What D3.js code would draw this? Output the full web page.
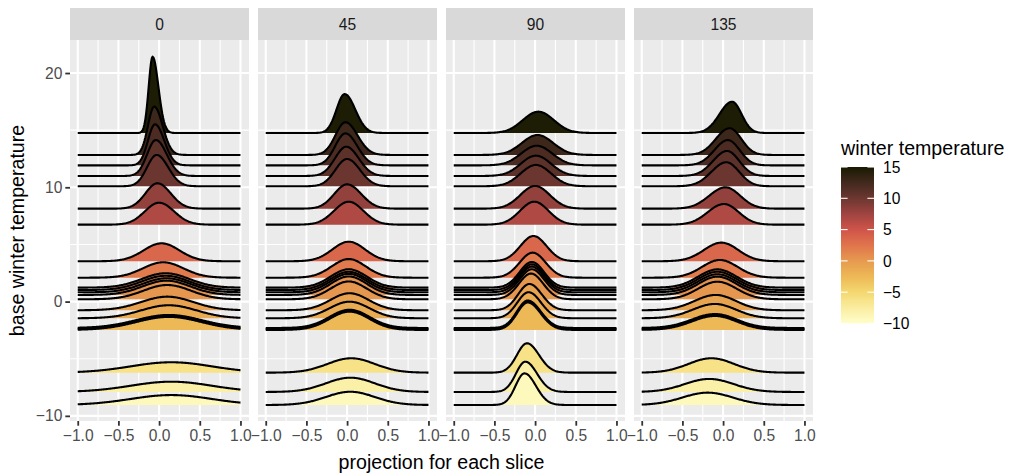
<!DOCTYPE html>
<html>
<head>
<meta charset="utf-8">
<script src="https://cdn.jsdelivr.net/npm/d3@7"></script>
<style>
  body { margin: 0; background: #fff; }
  svg { font-family: "Liberation Sans", Arial, sans-serif; }
  .panel-bg { fill: #EBEBEB; }
  .strip { fill: #D9D9D9; }
  .strip-text { fill: #1A1A1A; font-size: 15.6px; }
  .grid-major { stroke: #fff; stroke-width: 2.1; }
  .grid-minor { stroke: #fff; stroke-width: 1.1; }
  .tick line { stroke: #333; stroke-width: 1.8; }
  .tick text { fill: #4D4D4D; font-size: 15.6px; }
  .axis-title { fill: #000; font-size: 19.6px; }
  .ridge-line { fill: none; stroke: #000; stroke-width: 2.1; stroke-linejoin: round; }
</style>
</head>
<body>
<div id="chart"></div>
<script>
// facets (angle of projection)
const facets = ['0', '45', '90', '135'];

// base winter temperature of each ridge (same for every facet), top to bottom
const baseTemps = [14.75, 12.83, 11.92, 10.99, 10.09, 8.13, 6.73, 3.53, 2.09, 1.22, 1.01, 0.81, 0.58, 0.20,
                   -0.76, -1.46, -2.31, -2.40, -2.48, -6.22, -7.91, -9.05];

// ridge centre / spread / peak height (in temperature units) / right-left lean, read per facet
const centre0 = [-0.08, -0.06, -0.05, -0.04, -0.03, -0.02, 0.0, 0.03, 0.05, 0.08, 0.08, 0.09, 0.09, 0.10, 0.10, 0.12, 0.12, 0.12, 0.12, 0.15, 0.15, 0.15];
const spread0 = [0.06, 0.09, 0.10, 0.12, 0.13, 0.155, 0.18, 0.22, 0.25, 0.29, 0.29, 0.29, 0.29, 0.29, 0.32, 0.34, 0.40, 0.40, 0.40, 0.50, 0.50, 0.50];
const height0 = [6.68, 4.23, 3.59, 3.15, 2.74, 2.22, 1.92, 1.57, 1.35, 1.26, 1.25, 1.23, 1.25, 1.25, 1.19, 1.14, 1.14, 1.14, 1.14, 0.91, 0.90, 0.87];
const lean0 = [1.5, 1.35, 1.3, 1.25, 1.2, 1.1, 1.05, 1, 1, 1, 1, 1, 1, 1, 1, 1, 1, 1, 1, 1, 1, 1];

const centre45 = [-0.03, -0.02, -0.02, -0.01, 0.0, 0.0, 0.02, 0.02, 0.02, 0.02, 0.02, 0.02, 0.02, 0.02, 0.03, 0.03, 0.03, 0.03, 0.03, 0.05, 0.04, 0.04];
const spread45 = [0.115, 0.135, 0.135, 0.145, 0.15, 0.165, 0.18, 0.20, 0.21, 0.22, 0.22, 0.22, 0.22, 0.22, 0.235, 0.245, 0.245, 0.245, 0.245, 0.29, 0.30, 0.30];
const height45 = [3.41, 2.86, 2.80, 2.56, 2.39, 2.13, 2.01, 1.71, 1.63, 1.61, 1.60, 1.62, 1.62, 1.56, 1.49, 1.45, 1.60, 1.60, 1.60, 1.26, 1.25, 1.16];
const lean45 = [1.3, 1.2, 1.15, 1.1, 1.1, 1.1, 1, 1, 1, 1, 1, 1, 1, 1, 1, 1, 1, 1, 1, 1, 1, 1];

const centre90 = [0.04, 0.03, 0.02, 0.01, 0.01, 0.0, -0.01, -0.02, -0.03, -0.04, -0.04, -0.04, -0.04, -0.05, -0.07, -0.08, -0.09, -0.09, -0.09, -0.10, -0.12, -0.13];
const spread90 = [0.19, 0.19, 0.19, 0.185, 0.185, 0.18, 0.175, 0.16, 0.16, 0.15, 0.15, 0.15, 0.15, 0.15, 0.145, 0.145, 0.145, 0.145, 0.145, 0.135, 0.13, 0.125];
const height90 = [1.87, 1.75, 1.72, 1.78, 1.87, 1.99, 2.01, 2.21, 2.19, 2.25, 2.25, 2.25, 2.25, 2.25, 2.30, 2.28, 2.40, 2.40, 2.40, 2.57, 2.65, 2.77];
const lean90 = [1, 1, 1, 1, 1, 1, 1, 1, 1, 1, 1, 1, 1, 1, 1.1, 1.1, 1.2, 1.2, 1.2, 1.2, 1.25, 1.27];

const centre135 = [0.11, 0.08, 0.06, 0.05, 0.04, 0.03, 0.01, -0.02, -0.04, -0.07, -0.07, -0.07, -0.07, -0.07, -0.09, -0.10, -0.10, -0.10, -0.10, -0.145, -0.17, -0.19];
const spread135 = [0.135, 0.155, 0.155, 0.16, 0.17, 0.19, 0.19, 0.21, 0.22, 0.235, 0.235, 0.235, 0.235, 0.235, 0.255, 0.265, 0.275, 0.275, 0.275, 0.28, 0.30, 0.31];
const height135 = [2.74, 2.34, 2.21, 2.19, 2.10, 1.87, 1.81, 1.63, 1.55, 1.60, 1.60, 1.58, 1.60, 1.54, 1.34, 1.25, 1.22, 1.22, 1.22, 1.26, 1.14, 1.08];
const lean135 = [0.76, 0.85, 0.86, 0.86, 0.86, 0.9, 0.92, 0.96, 1, 1, 1, 1, 1, 1, 0.95, 0.95, 0.94, 0.94, 0.94, 1, 1, 1];

// axis ticks
const xTicks = [-1, -0.5, 0, 0.5, 1];
const xMinor = [-0.75, -0.25, 0.25, 0.75];
const yTicks = [-10, 0, 10, 20];
const yMinor = [-5, 5, 15];
const legendTicks = [15, 10, 5, 0, -5, -10];

// fill palette (light yellow -> orange -> red -> near black)
const paletteTemps = [-10, -7.5, -5, -2.5, 0, 2.5, 5, 7.5, 10, 12.5, 15];
const paletteColours = ['#FFFECB', '#FAEDA0', '#F4D870', '#EDB856', '#E69A4F', '#E0744C',
                        '#CF5449', '#9F4441', '#6C3730', '#42291E', '#191A01'];

const ridgeParams = [
  [centre0, spread0, height0, lean0],
  [centre45, spread45, height45, lean45],
  [centre90, spread90, height90, lean90],
  [centre135, spread135, height135, lean135]
];

class RidgeFacets {

  constructor(container, width, height) {
    this.width = width;
    this.height = height;
    this.svg = d3.select(container).append('svg').attr('width', width).attr('height', height);
    this.svg.append('rect').attr('width', width).attr('height', height).attr('fill', '#fff');

    // panel geometry
    this.panelLeft = 70; this.panelWidth = 179; this.panelStep = 188;
    this.panelTop = 40; this.panelBottom = 421;
    this.stripTop = 8;

    this.scaleY = d3.scaleLinear().domain([-10.45, 22.89]).range([this.panelBottom, this.panelTop]);
    this.scaleX = d3.scaleLinear().domain([-1.095, 1.105]).range([0, this.panelWidth]);
    this.colour = d3.scaleLinear().domain(paletteTemps).range(paletteColours).clamp(true);
  }

  drawPanel(i) {
    const x = this.scaleX, y = this.scaleY;
    const g = this.svg.append('g').attr('transform', `translate(${this.panelLeft + i * this.panelStep},0)`);

    // strip
    g.append('rect').classed('strip', true)
      .attr('x', 0).attr('y', this.stripTop).attr('width', this.panelWidth).attr('height', this.panelTop - this.stripTop);
    g.append('text').classed('strip-text', true)
      .attr('x', this.panelWidth / 2).attr('y', (this.stripTop + this.panelTop) / 2)
      .attr('text-anchor', 'middle').attr('dy', '0.36em').text(facets[i]);

    // background + grid
    g.append('rect').classed('panel-bg', true)
      .attr('x', 0).attr('y', this.panelTop).attr('width', this.panelWidth).attr('height', this.panelBottom - this.panelTop);
    g.selectAll('.gx-minor').data(xMinor).join('line').attr('class', 'grid-minor')
      .attr('x1', d => x(d)).attr('x2', d => x(d)).attr('y1', this.panelTop).attr('y2', this.panelBottom);
    g.selectAll('.gy-minor').data(yMinor).join('line').attr('class', 'grid-minor')
      .attr('y1', d => y(d)).attr('y2', d => y(d)).attr('x1', 0).attr('x2', this.panelWidth);
    g.selectAll('.gx-major').data(xTicks).join('line').attr('class', 'grid-major')
      .attr('x1', d => x(d)).attr('x2', d => x(d)).attr('y1', this.panelTop).attr('y2', this.panelBottom);
    g.selectAll('.gy-major').data(yTicks).join('line').attr('class', 'grid-major')
      .attr('y1', d => y(d)).attr('y2', d => y(d)).attr('x1', 0).attr('x2', this.panelWidth);

    // ridges, top one first so lower ridges overlap it
    const [centre, spread, peak, lean] = ridgeParams[i];
    const xs = d3.range(-1, 1.0001, 0.01);
    baseTemps.forEach((base, k) => {
      const sdLeft = spread[k] * 2 / (1 + lean[k]);
      const sdRight = sdLeft * lean[k];
      const pts = xs.map(v => {
        const sd = v < centre[k] ? sdLeft : sdRight;
        return [v, base + peak[k] * Math.exp(-0.5 * ((v - centre[k]) / sd) ** 2)];
      });
      const area = d3.area().x(d => x(d[0])).y0(y(base)).y1(d => y(d[1]));
      const line = d3.line().x(d => x(d[0])).y(d => y(d[1]));
      g.append('path').datum(pts).attr('d', area).attr('fill', this.colour(base));
      g.append('path').datum(pts).attr('d', line).classed('ridge-line', true);
    });

    // x axis
    const axisX = g.append('g').attr('transform', `translate(0,${this.panelBottom})`)
      .call(d3.axisBottom(x).tickValues(xTicks).tickSize(4.7).tickPadding(4).tickFormat(d3.format('.1f')));
    axisX.select('.domain').remove();
    axisX.selectAll('.tick text').text(d => d3.format('.1f')(d).replace('-', '\u2212'));
  }

  drawAxes() {
    const y = this.scaleY;
    const axisY = this.svg.append('g').attr('transform', `translate(${this.panelLeft},0)`)
      .call(d3.axisLeft(y).tickValues(yTicks).tickSize(4.7).tickPadding(3));
    axisY.select('.domain').remove();
    axisY.selectAll('.tick text').text(d => String(d).replace('-', '\u2212'));

    const midX = this.panelLeft + (3 * this.panelStep + this.panelWidth) / 2;
    this.svg.append('text').classed('axis-title', true)
      .attr('x', midX).attr('y', 469).attr('text-anchor', 'middle').text('projection for each slice');
    this.svg.append('text').classed('axis-title', true)
      .attr('transform', `translate(24,${(this.panelTop + this.panelBottom) / 2})rotate(-90)`)
      .attr('text-anchor', 'middle').text('base winter temperature');
  }

  drawLegend() {
    const lx = 841, barW = 33;
    const ly = d3.scaleLinear().domain([-10, 15]).range([323.5, 167]);
    const grad = this.svg.append('defs').append('linearGradient').attr('id', 'tempGrad')
      .attr('x1', 0).attr('y1', 1).attr('x2', 0).attr('y2', 0);
    d3.range(-10, 15.01, 0.5).forEach(t => {
      grad.append('stop').attr('offset', (t + 10) / 25).attr('stop-color', this.colour(t));
    });
    const lg = this.svg.append('g');
    lg.append('text').classed('axis-title', true).attr('x', lx).attr('y', 155).text('winter temperature');
    lg.append('rect').attr('x', lx).attr('y', ly(15)).attr('width', barW).attr('height', ly(-10) - ly(15))
      .attr('fill', 'url(#tempGrad)');
    legendTicks.forEach(t => {
      lg.append('line').attr('x1', lx).attr('x2', lx + 6.6).attr('y1', ly(t)).attr('y2', ly(t))
        .attr('stroke', '#fff').attr('stroke-width', 1.1);
      lg.append('line').attr('x1', lx + barW - 6.6).attr('x2', lx + barW).attr('y1', ly(t)).attr('y2', ly(t))
        .attr('stroke', '#fff').attr('stroke-width', 1.1);
      lg.append('text').attr('x', lx + barW + 9).attr('y', ly(t)).attr('dy', '0.36em')
        .attr('fill', '#000').style('font-size', '15.6px').text(String(t).replace('-', '\u2212'));
    });
  }

  render() {
    facets.forEach((f, i) => this.drawPanel(i));
    this.drawAxes();
    this.drawLegend();
    return this;
  }
}

new RidgeFacets('#chart', 1009, 474).render();
</script>
</body>
</html>
